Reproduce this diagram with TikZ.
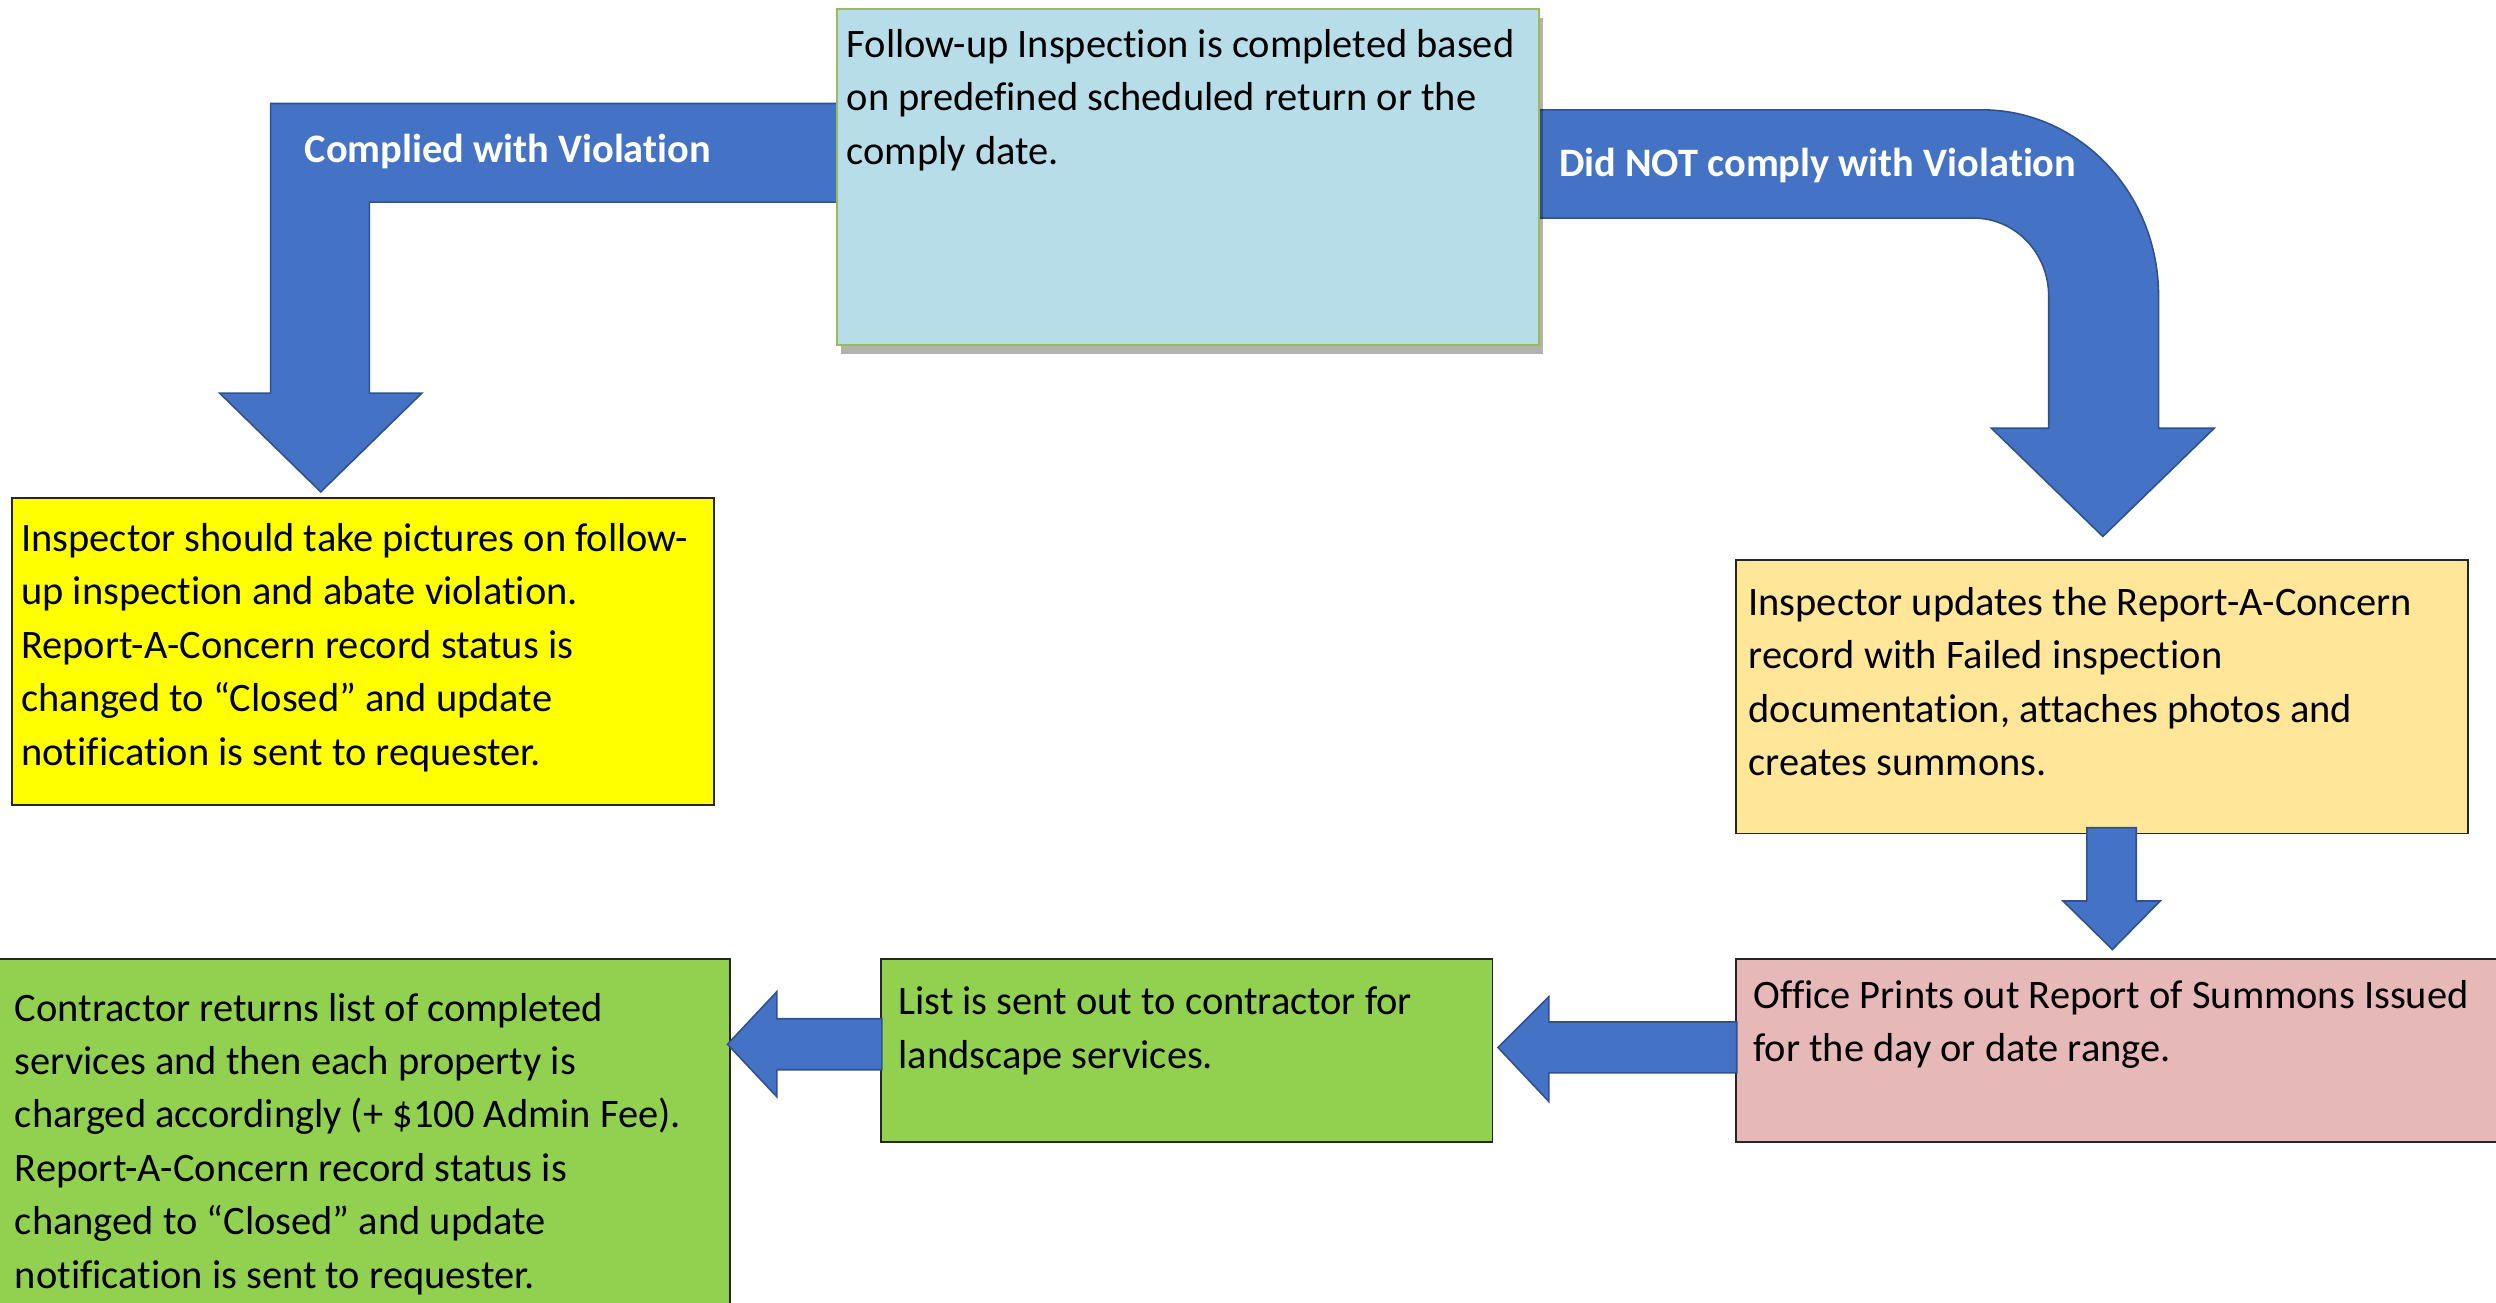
\documentclass[tikz,border=0pt]{standalone}
\usepackage{fontspec}
\setmainfont{Carlito}[Ligatures=NoCommon]
\usetikzlibrary{shadows}
\definecolor{arrowblue}{HTML}{4472C4}
\definecolor{arrowedge}{HTML}{2F528F}
\definecolor{lblue}{HTML}{B7DDE8}
\definecolor{lgreenedge}{HTML}{9BBB59}
\definecolor{byellow}{HTML}{FFFF00}
\definecolor{lorange}{HTML}{FFE699}
\definecolor{lpink}{HTML}{E6B8B7}
\definecolor{lgreen}{HTML}{92D050}
\begin{document}
\begin{tikzpicture}[x=0.5pt,y=-0.5pt,
  box/.style={draw=black!85, line width=0.6pt, anchor=north west, inner sep=0pt},
  blockarrow/.style={fill=arrowblue, draw=arrowedge, line width=0.5pt, line join=miter},
  txt/.style={anchor=north west, inner sep=0pt, align=left, font=\fontsize{12.7}{16.8}\selectfont, text=black},
  lbl/.style={anchor=base west, inner sep=0pt, font=\fontsize{12.7}{15}\selectfont\bfseries, text=white}]
\useasboundingbox (0,0) rectangle (1568,818.5);

% block arrows from the top box
\path[blockarrow] (527,65) -- (170,65) -- (170,247) -- (138,247) -- (201.5,309) -- (265,247) -- (232,247) -- (232,127) -- (527,127) -- cycle;
\path[blockarrow] (964,69) -- (1245,69) .. controls (1306,69) and (1356,121) .. (1356,186) -- (1356,269) -- (1391,269) -- (1321,337) -- (1251,269) -- (1287,269) -- (1287,186) .. controls (1287,159) and (1266,137) .. (1240,137) -- (964,137) -- cycle;

% boxes
\node (b1) [box, draw=lgreenedge, fill=lblue, minimum width=220.5pt, minimum height=105.5pt,
  drop shadow={shadow xshift=1.2pt, shadow yshift=-3pt, fill=black, opacity=0.3}] at (525,5) {};
\node (b2) [box, fill=byellow, minimum width=220.5pt, minimum height=96.5pt] at (7,312) {};
\node (b3) [box, fill=lorange, minimum width=230pt, minimum height=86pt] at (1090,351) {};
\node (b4) [box, fill=lpink, minimum width=242.5pt, minimum height=57.5pt] at (1090,602) {};
\node (b5) [box, fill=lgreen, minimum width=192pt, minimum height=57.5pt] at (553,602) {};
\node (b6) [box, fill=lgreen, minimum width=230pt, minimum height=114pt] at (-2,602) {};

% small arrows
\path[blockarrow] (1311,520) -- (1342,520) -- (1342,566) -- (1357,566) -- (1327,596.5) -- (1296,566) -- (1311,566) -- cycle;
\path[blockarrow] (1091,642) -- (973,642) -- (973,626) -- (941,658) -- (973,692) -- (973,674) -- (1091,674) -- cycle;
\path[blockarrow] (554,640) -- (488,640) -- (488,623) -- (457,656) -- (488,689) -- (488,672) -- (554,672) -- cycle;

% arrow labels
\node (l1) [lbl] at (191,102) {Complied with Violation};
\node (l2) [lbl] at (979,111) {Did NOT comply with Violation};

% texts
\node (t1) [txt] at (531.5,13.5) {\rule{0pt}{11pt}Follow-up Inspection is completed based\\on predefined scheduled return or the\\comply date.};
\node (t2) [txt] at (13,324) {\rule{0pt}{11pt}Inspector should take pictures on follow-\\up inspection and abate violation.\\Report-A-Concern record status is\\changed to “Closed” and update\\notification is sent to requester.};
\node (t3) [txt] at (1098,364) {\rule{0pt}{11pt}Inspector updates the Report-A-Concern\\record with Failed inspection\\documentation, attaches photos and\\creates summons.};
\node (t4) [txt] at (1101,611) {\rule{0pt}{11pt}Office Prints out Report of Summons Issued\\for the day or date range.};
\node (t5) [txt] at (564,615) {\rule{0pt}{11pt}List is sent out to contractor for\\landscape services.};
\node (t6) [txt] at (9,619) {\rule{0pt}{11pt}Contractor returns list of completed\\services and then each property is\\charged accordingly (+ \$100 Admin Fee).\\Report-A-Concern record status is\\changed to “Closed” and update\\notification is sent to requester.};
\end{tikzpicture}
\end{document}
